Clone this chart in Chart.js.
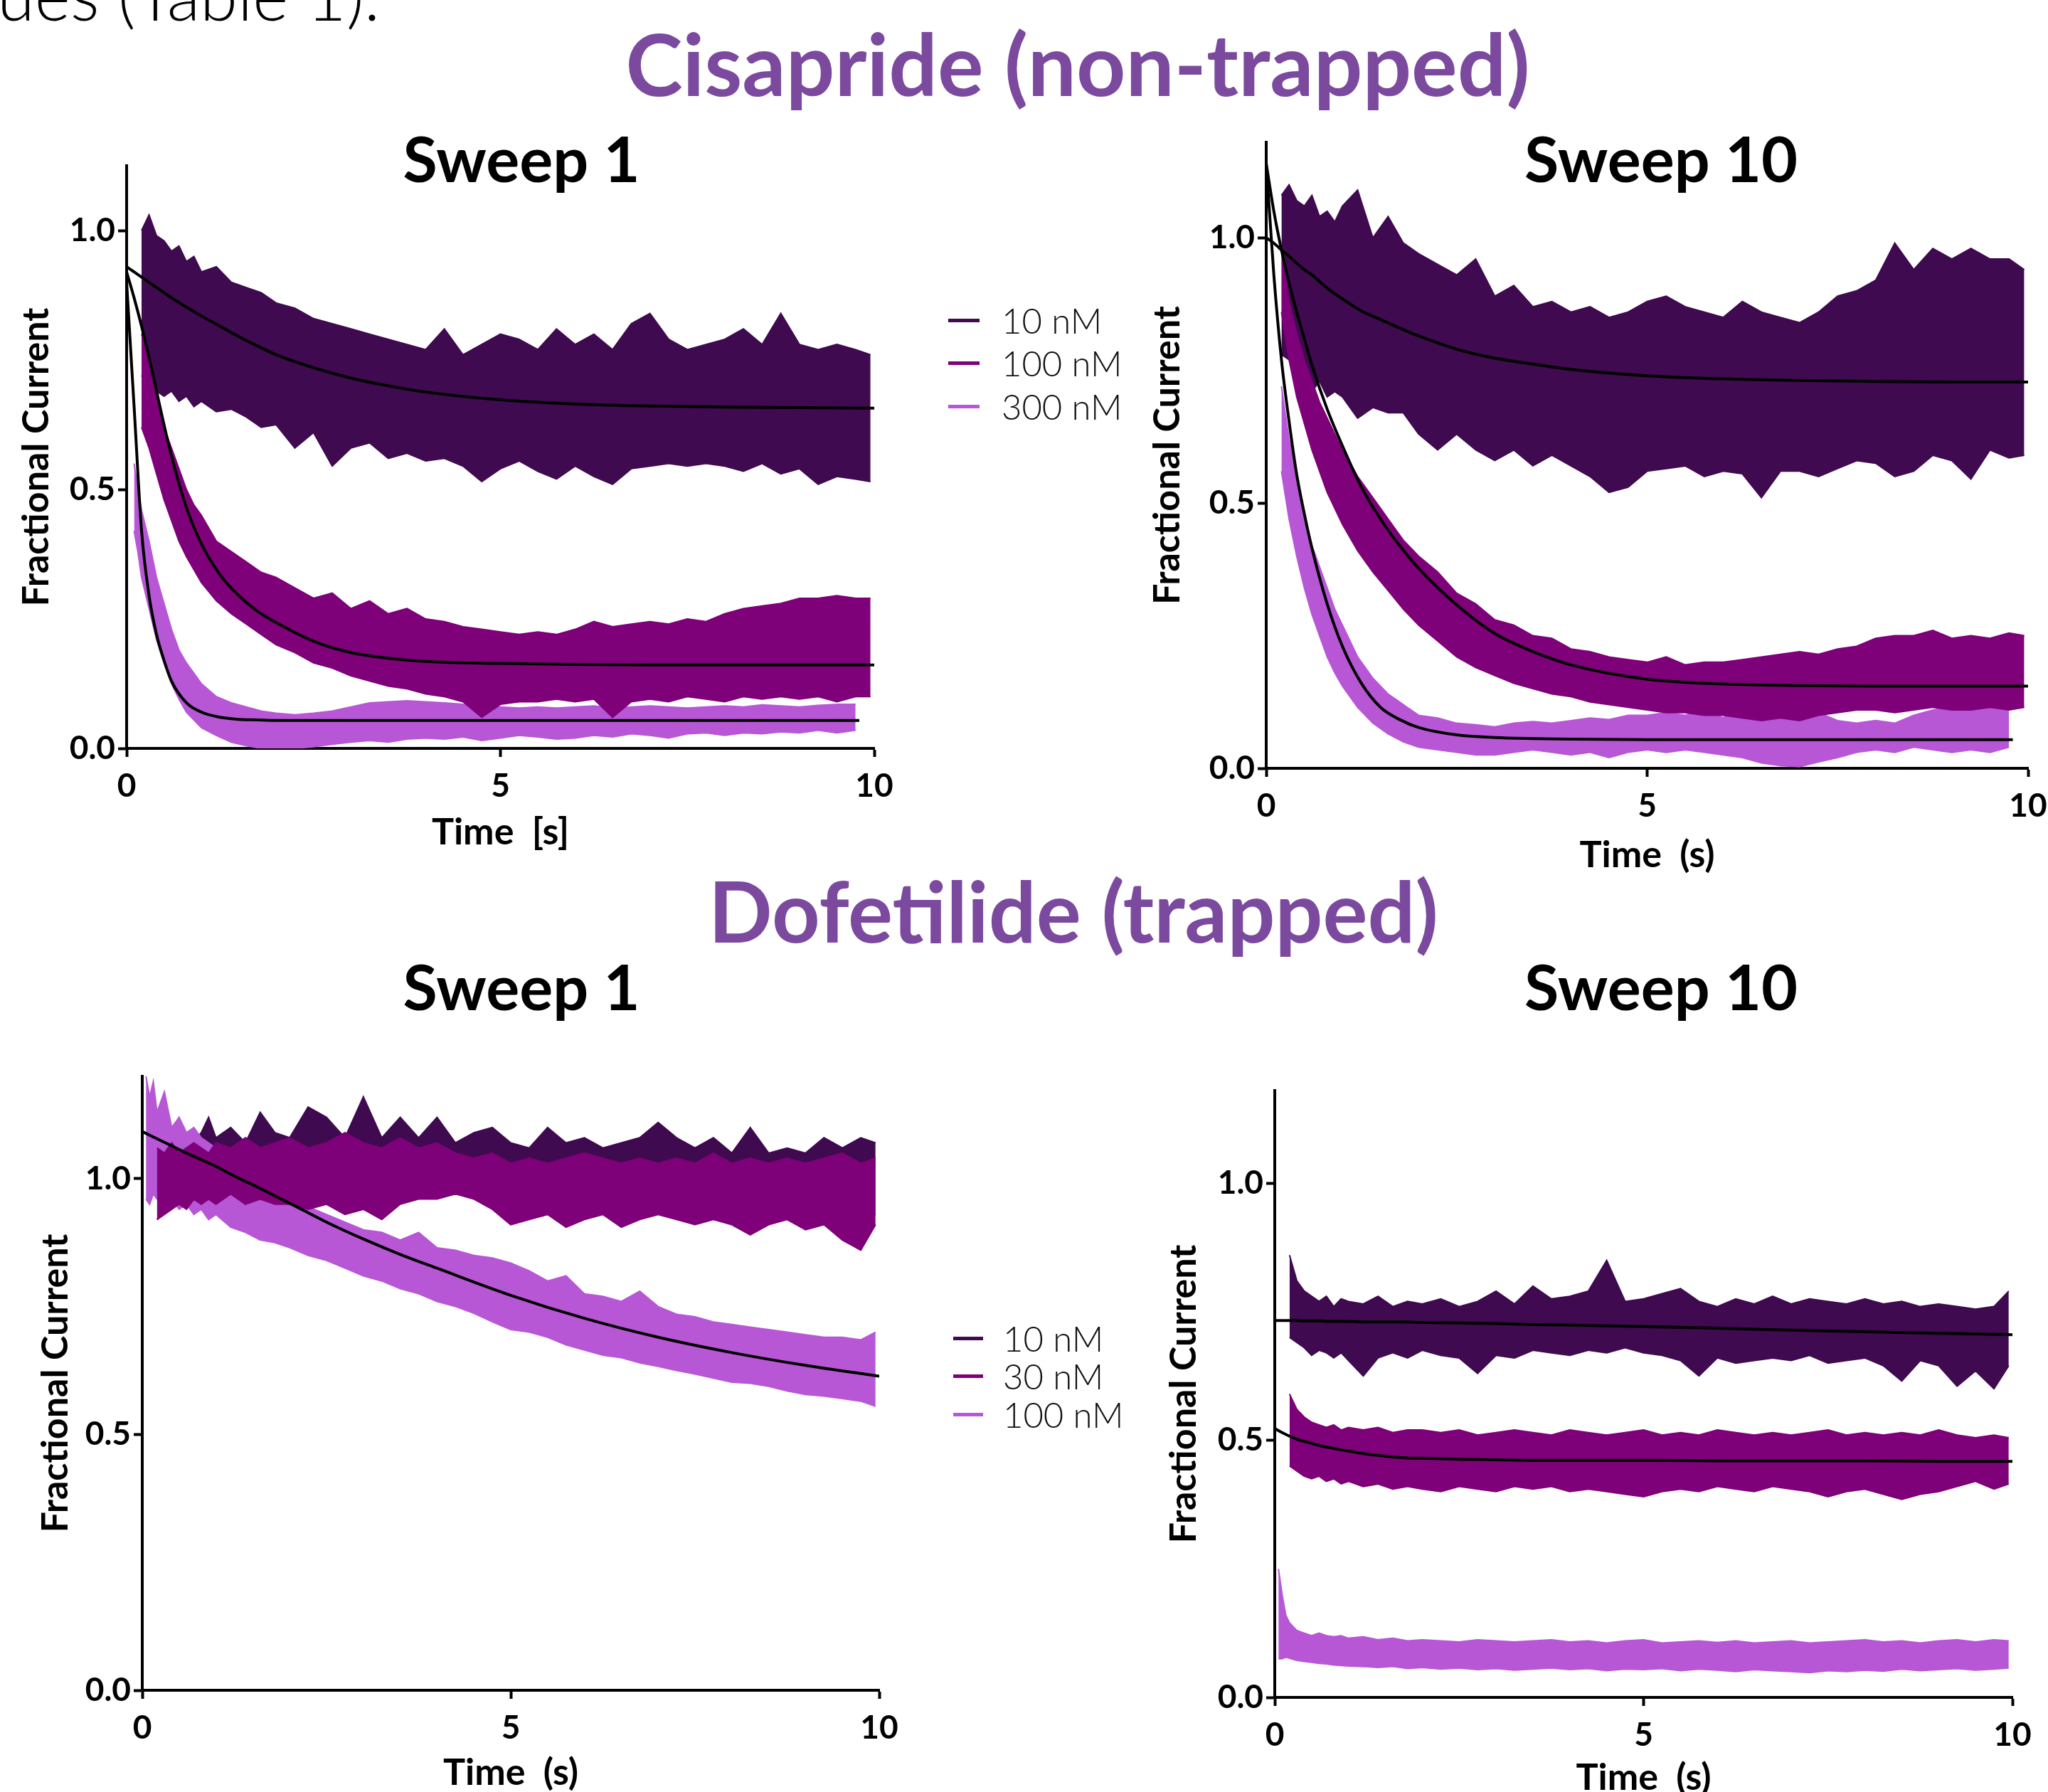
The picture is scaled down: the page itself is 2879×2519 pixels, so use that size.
<!DOCTYPE html>
<html>
<head>
<meta charset="utf-8">
<script src="https://cdn.jsdelivr.net/npm/chart.js@4.4.1/dist/chart.umd.min.js"></script>
<style>
html,body{margin:0;padding:0;background:#fff;}
body{width:2879px;height:2519px;overflow:hidden;position:relative;font-family:Lato,"Noto Sans",sans-serif;}
.t{position:absolute;white-space:nowrap;line-height:1;transform:translate(-50%,-50%);}
.head{font-weight:700;color:#7b4a9e;font-size:121px;}
.sweep{font-weight:700;color:#000;font-size:88px;}
.cut{position:absolute;left:-4px;top:-56px;font-size:96px;font-weight:300;line-height:1;white-space:nowrap;color:#000;}
canvas{position:absolute;}
.leg{position:absolute;left:0;top:0;}
.legline{position:absolute;height:5px;}
.legtxt{position:absolute;font-size:49px;font-weight:300;line-height:1;color:#111;white-space:nowrap;transform:translateY(-50%);}
</style>
</head>
<body>
<div class="cut">ues (Table 1).</div>
<div class="t head" style="left:1515px;top:88px;">Cisapride (non-trapped)</div>
<div class="t head" style="left:1509px;top:1280px;font-size:118px;">Dofetilide (trapped)</div>
<div class="t sweep" style="left:733px;top:222px;">Sweep 1</div>
<div class="t sweep" style="left:2335px;top:222px;">Sweep 10</div>
<div class="t sweep" style="left:733px;top:1386px;">Sweep 1</div>
<div class="t sweep" style="left:2335px;top:1386px;">Sweep 10</div>
<div id="legTop" class="leg"></div>
<div id="legBottom" class="leg"></div>
<canvas id="cA"></canvas>
<canvas id="cB"></canvas>
<canvas id="cC"></canvas>
<canvas id="cD"></canvas>
<script>
// ---------------- DATA ----------------
const time = [0.05,0.1,0.15,0.2,0.3,0.4,0.5,0.6,0.7,0.8,0.9,1.0,
  1.2,1.4,1.6,1.8,2.0,2.25,2.5,2.75,3.0,3.25,3.5,3.75,
  4.0,4.25,4.5,4.75,5.0,5.25,5.5,5.75,6.0,6.25,6.5,6.75,
  7.0,7.25,7.5,7.75,8.0,8.25,8.5,8.75,9.0,9.25,9.5,9.75,9.95];
const fitTime = [0,0.1,0.2,0.3,0.4,0.5,0.6,0.8,1.0,1.25,1.5,1.75,2.0,2.5,3.0,3.5,4.0,5.0,6.0,7.0,8.0,9.0,9.8,10.0];

const xTickValues = [0,5,10];
const yTickValues = [0,0.5,1.0];
const cisLabels = ['10 nM','100 nM','300 nM'];
const dofLabels = ['10 nM','30 nM','100 nM'];

// Cisapride, Sweep 1 (upper / lower edge of the error-bar band)
const cisS1_10_hi = [null,null,null,1.00,1.03,0.99,0.98,0.96,0.97,0.94,0.95,0.92,
  0.93,0.90,0.89,0.88,0.86,0.85,0.83,0.82,0.81,0.80,0.79,0.78,
  0.77,0.81,0.76,0.78,0.80,0.79,0.77,0.81,0.78,0.80,0.77,0.82,
  0.84,0.79,0.77,0.78,0.79,0.81,0.78,0.84,0.78,0.77,0.78,0.77,0.76];
const cisS1_10_lo = [null,null,null,0.72,0.70,0.69,0.68,0.69,0.67,0.68,0.66,0.67,
  0.65,0.655,0.64,0.62,0.625,0.58,0.61,0.545,0.58,0.59,0.56,0.57,
  0.555,0.56,0.545,0.515,0.54,0.555,0.535,0.52,0.545,0.525,0.51,0.54,
  0.545,0.55,0.545,0.55,0.545,0.535,0.55,0.53,0.54,0.51,0.525,0.52,0.515];
const cisS1_100_hi = [null,null,null,0.80,0.74,0.68,0.62,0.58,0.54,0.50,0.47,0.45,
  0.40,0.38,0.36,0.34,0.33,0.31,0.29,0.30,0.27,0.285,0.26,0.27,
  0.25,0.245,0.235,0.23,0.225,0.22,0.225,0.22,0.23,0.245,0.235,0.24,
  0.245,0.24,0.25,0.245,0.26,0.27,0.275,0.28,0.29,0.29,0.295,0.29,0.29];
const cisS1_100_lo = [null,null,null,0.62,0.58,0.53,0.48,0.44,0.40,0.37,0.345,0.32,
  0.285,0.26,0.24,0.22,0.20,0.185,0.165,0.155,0.14,0.13,0.12,0.115,
  0.105,0.10,0.09,0.06,0.085,0.09,0.09,0.095,0.09,0.095,0.06,0.09,
  0.095,0.09,0.10,0.095,0.09,0.10,0.095,0.10,0.095,0.10,0.09,0.10,0.10];
const cisS1_300_hi = [null,0.55,0.50,0.46,0.40,0.33,0.28,0.23,0.19,0.165,0.145,0.125,
  0.10,0.088,0.08,0.072,0.068,0.065,0.068,0.072,0.08,0.088,0.09,0.092,
  0.09,0.088,0.085,0.082,0.08,0.078,0.08,0.078,0.08,0.082,0.078,0.08,
  0.082,0.08,0.078,0.08,0.082,0.08,0.084,0.082,0.08,0.083,0.085,0.085,null];
const cisS1_300_lo = [null,0.42,0.38,0.33,0.27,0.21,0.165,0.125,0.095,0.07,0.055,0.04,
  0.025,0.012,0.005,0.0,0.0,0.0,0.003,0.008,0.012,0.015,0.012,0.018,
  0.02,0.018,0.022,0.015,0.02,0.025,0.022,0.018,0.02,0.025,0.022,0.028,
  0.025,0.02,0.028,0.03,0.025,0.03,0.028,0.032,0.03,0.035,0.03,0.035,null];
const cisS1_fit10 = [0.93,0.92,0.91,0.90,0.89,0.88,0.87,0.852,0.835,0.815,0.795,0.777,0.76,0.735,0.715,0.70,0.688,0.673,0.665,0.661,0.659,0.658,0.657,0.657];
const cisS1_fit100 = [0.92,0.87,0.815,0.755,0.69,0.625,0.565,0.465,0.395,0.335,0.295,0.265,0.243,0.207,0.185,0.174,0.168,0.164,0.162,0.161,0.161,0.161,0.161,0.161];
const cisS1_fit300 = [0.90,0.66,0.42,0.295,0.22,0.17,0.13,0.088,0.07,0.06,0.056,0.055,0.054,0.054,0.054,0.054,0.054,0.054,0.054,0.054,0.054,0.054,0.054,null];

// Cisapride, Sweep 10
const cisS10_10_hi = [null,null,null,1.08,1.10,1.07,1.06,1.08,1.04,1.05,1.03,1.06,
  1.09,1.00,1.04,0.99,0.97,0.95,0.93,0.96,0.89,0.91,0.87,0.88,
  0.86,0.87,0.85,0.86,0.88,0.89,0.87,0.86,0.85,0.88,0.86,0.85,
  0.84,0.86,0.89,0.90,0.92,0.99,0.94,0.98,0.96,0.98,0.96,0.96,0.94];
const cisS10_10_lo = [null,null,null,0.78,0.77,0.75,0.73,0.71,0.73,0.70,0.71,0.70,
  0.66,0.68,0.67,0.67,0.63,0.60,0.63,0.60,0.58,0.60,0.57,0.59,
  0.57,0.55,0.52,0.53,0.56,0.565,0.57,0.55,0.56,0.555,0.51,0.56,
  0.56,0.55,0.565,0.58,0.575,0.55,0.56,0.59,0.58,0.545,0.60,0.585,0.59];
const cisS10_100_hi = [null,null,null,0.98,0.88,0.82,0.77,0.73,0.69,0.66,0.63,0.60,
  0.55,0.51,0.47,0.43,0.40,0.37,0.33,0.31,0.28,0.27,0.25,0.245,
  0.225,0.22,0.21,0.205,0.20,0.21,0.195,0.20,0.20,0.205,0.21,0.215,
  0.22,0.215,0.225,0.23,0.245,0.25,0.25,0.26,0.245,0.25,0.245,0.255,0.25];
const cisS10_100_lo = [null,null,null,0.86,0.77,0.70,0.65,0.60,0.56,0.52,0.49,0.46,
  0.41,0.37,0.335,0.30,0.27,0.24,0.21,0.19,0.175,0.16,0.15,0.14,
  0.135,0.125,0.12,0.115,0.11,0.105,0.105,0.10,0.10,0.095,0.09,0.095,
  0.09,0.10,0.105,0.11,0.11,0.105,0.11,0.115,0.11,0.11,0.115,0.11,0.115];
const cisS10_300_hi = [null,null,null,0.72,0.62,0.55,0.48,0.42,0.38,0.34,0.30,0.27,
  0.21,0.17,0.14,0.12,0.10,0.095,0.085,0.082,0.078,0.085,0.088,0.085,
  0.09,0.095,0.092,0.10,0.10,0.105,0.10,0.11,0.095,0.13,0.11,0.115,
  0.12,0.105,0.09,0.085,0.09,0.085,0.10,0.11,0.115,0.11,0.12,0.13,null];
const cisS10_300_lo = [null,null,null,0.56,0.47,0.40,0.34,0.29,0.25,0.21,0.18,0.155,
  0.115,0.085,0.065,0.05,0.04,0.035,0.03,0.025,0.025,0.03,0.035,0.03,
  0.025,0.03,0.02,0.03,0.035,0.03,0.035,0.03,0.025,0.02,0.01,0.005,
  0.003,0.012,0.02,0.03,0.035,0.03,0.04,0.035,0.03,0.035,0.03,0.04,null];
const cisS10_fit10 = [1.0,0.99,0.977,0.965,0.952,0.94,0.93,0.905,0.885,0.862,0.846,0.83,0.815,0.79,0.773,0.762,0.752,0.740,0.734,0.731,0.729,0.728,0.728,0.728];
const cisS10_fit100 = [1.14,1.05,0.977,0.915,0.86,0.81,0.76,0.677,0.608,0.53,0.47,0.42,0.377,0.308,0.254,0.22,0.195,0.168,0.159,0.156,0.155,0.155,0.155,0.155];
const cisS10_fit300 = [1.14,0.93,0.77,0.654,0.554,0.48,0.415,0.31,0.23,0.16,0.115,0.092,0.077,0.063,0.058,0.056,0.055,0.054,0.054,0.054,0.054,0.054,0.054,null];

// Dofetilide, Sweep 1
const dofS1_10_hi = [null,null,null,1.07,1.09,1.06,1.07,1.08,1.07,1.09,1.12,1.08,
  1.10,1.07,1.13,1.09,1.08,1.14,1.12,1.08,1.16,1.08,1.12,1.08,
  1.12,1.07,1.09,1.10,1.07,1.06,1.10,1.07,1.08,1.06,1.07,1.08,
  1.11,1.08,1.06,1.08,1.05,1.10,1.05,1.06,1.05,1.08,1.06,1.08,1.07];
const dofS1_10_lo = [null,null,null,0.92,0.94,0.95,0.96,0.95,0.96,0.95,0.96,0.96,
  0.97,0.96,0.96,0.965,0.96,0.955,0.96,0.95,0.955,0.95,0.96,0.965,
  0.965,0.97,0.965,0.955,0.945,0.94,0.945,0.935,0.94,0.945,0.935,0.94,
  0.945,0.94,0.935,0.94,0.93,0.925,0.93,0.935,0.92,0.93,0.915,0.92,0.93];
const dofS1_30_hi = [null,null,null,1.06,1.05,1.07,1.05,1.06,1.07,1.06,1.05,1.07,
  1.06,1.08,1.06,1.07,1.08,1.06,1.07,1.09,1.07,1.06,1.08,1.06,
  1.07,1.05,1.04,1.05,1.03,1.04,1.03,1.04,1.05,1.04,1.03,1.04,
  1.03,1.04,1.03,1.05,1.03,1.04,1.03,1.04,1.03,1.04,1.05,1.03,1.04];
const dofS1_30_lo = [null,null,null,0.92,0.93,0.94,0.95,0.94,0.96,0.95,0.96,0.95,
  0.97,0.95,0.96,0.95,0.95,0.94,0.95,0.93,0.94,0.92,0.95,0.96,
  0.96,0.97,0.96,0.94,0.91,0.92,0.93,0.905,0.92,0.93,0.905,0.92,
  0.93,0.92,0.91,0.92,0.91,0.89,0.91,0.92,0.90,0.91,0.88,0.86,0.91];
const dofS1_100_hi = [1.20,1.16,1.19,1.13,1.17,1.10,1.12,1.09,1.10,1.08,1.07,1.06,
  1.03,1.00,0.99,0.97,0.96,0.945,0.93,0.915,0.90,0.895,0.88,0.895,
  0.865,0.86,0.85,0.845,0.835,0.82,0.80,0.81,0.775,0.77,0.76,0.78,
  0.75,0.735,0.73,0.72,0.715,0.71,0.705,0.70,0.695,0.69,0.69,0.685,0.70];
const dofS1_100_lo = [0.96,0.95,0.97,0.96,0.95,0.96,0.94,0.95,0.93,0.94,0.92,0.93,
  0.905,0.895,0.88,0.875,0.865,0.85,0.84,0.825,0.81,0.80,0.785,0.775,
  0.76,0.75,0.737,0.72,0.705,0.70,0.69,0.675,0.665,0.655,0.65,0.64,
  0.633,0.625,0.618,0.61,0.602,0.60,0.594,0.585,0.578,0.575,0.57,0.565,0.555];
const dofS1_fit100 = [1.092,1.085,1.078,1.071,1.064,1.057,1.05,1.037,1.024,1.005,0.988,0.97,0.952,0.915,0.882,0.852,0.825,0.772,0.727,0.69,0.66,0.635,0.618,0.614];

// Dofetilide, Sweep 10
const dofS10_10_hi = [null,null,null,0.86,0.81,0.79,0.78,0.77,0.78,0.76,0.775,0.77,
  0.765,0.78,0.76,0.77,0.765,0.775,0.76,0.77,0.79,0.765,0.80,0.775,
  0.78,0.79,0.85,0.77,0.775,0.785,0.795,0.77,0.76,0.775,0.765,0.78,
  0.765,0.775,0.77,0.765,0.775,0.765,0.77,0.76,0.765,0.76,0.755,0.76,0.79];
const dofS10_10_lo = [null,null,null,0.70,0.69,0.68,0.665,0.675,0.67,0.66,0.67,0.655,
  0.625,0.66,0.67,0.66,0.675,0.665,0.66,0.63,0.665,0.66,0.675,0.67,
  0.665,0.675,0.67,0.68,0.67,0.665,0.655,0.625,0.66,0.65,0.655,0.66,
  0.655,0.665,0.65,0.655,0.66,0.645,0.615,0.655,0.645,0.605,0.635,0.60,0.645];
const dofS10_30_hi = [null,null,null,0.59,0.56,0.545,0.535,0.53,0.525,0.53,0.52,0.525,
  0.52,0.525,0.515,0.52,0.52,0.515,0.52,0.51,0.515,0.52,0.515,0.51,
  0.52,0.515,0.51,0.515,0.52,0.51,0.515,0.51,0.52,0.515,0.51,0.515,
  0.51,0.515,0.52,0.51,0.515,0.51,0.515,0.51,0.52,0.51,0.505,0.51,0.505];
const dofS10_30_lo = [null,null,null,0.45,0.44,0.43,0.425,0.43,0.42,0.425,0.415,0.42,
  0.41,0.415,0.405,0.41,0.405,0.40,0.41,0.405,0.40,0.41,0.405,0.41,
  0.40,0.405,0.40,0.395,0.39,0.40,0.405,0.40,0.41,0.405,0.40,0.41,
  0.405,0.40,0.39,0.40,0.405,0.395,0.385,0.395,0.40,0.41,0.42,0.405,0.415];
const dofS10_100_hi = [0.25,0.20,0.16,0.145,0.13,0.125,0.12,0.125,0.12,0.118,0.12,0.115,
  0.118,0.112,0.115,0.11,0.112,0.11,0.108,0.112,0.11,0.108,0.11,0.112,
  0.108,0.11,0.106,0.11,0.112,0.106,0.108,0.11,0.107,0.11,0.106,0.108,
  0.11,0.106,0.108,0.11,0.112,0.108,0.11,0.106,0.11,0.112,0.108,0.112,0.11];
const dofS10_100_lo = [0.075,0.075,0.078,0.076,0.072,0.07,0.068,0.066,0.065,0.063,0.062,0.061,
  0.06,0.058,0.06,0.056,0.058,0.055,0.057,0.054,0.056,0.053,0.055,0.057,
  0.054,0.056,0.052,0.055,0.054,0.056,0.052,0.055,0.053,0.05,0.054,0.052,
  0.05,0.048,0.052,0.05,0.053,0.051,0.055,0.052,0.054,0.056,0.053,0.055,0.057];
const dofS10_fit10 = [0.733,0.733,0.733,0.733,0.732,0.732,0.732,0.731,0.731,0.730,0.730,0.730,0.729,0.728,0.727,0.725,0.724,0.721,0.718,0.714,0.711,0.708,0.706,0.705];
const dofS10_fit30 = [0.523,0.515,0.508,0.502,0.498,0.494,0.49,0.484,0.479,0.473,0.469,0.466,0.465,0.463,0.462,0.461,0.461,0.461,0.46,0.46,0.46,0.459,0.459,0.459];

// ---------------- STYLE / LAYOUT ----------------
const colors = ['#3f0a4f', '#7e0179', '#b757d6'];
Chart.defaults.font.family = 'Lato, "Noto Sans", sans-serif';
const tickFont = {size: 46, weight: 'bold'};
const titleFont = {size: 52, weight: 'bold'};
const PT = 40, PR = 60;

const panels = [
  {id:'cA', box:{l:178, r:1229, t:233, b:1052, wy:158, hx:149}, yMax:1.125, xTitle:'Time  [s]',
   labels:cisLabels, hi:[cisS1_10_hi, cisS1_100_hi, cisS1_300_hi], lo:[cisS1_10_lo, cisS1_100_lo, cisS1_300_lo],
   fits:[cisS1_fit10, cisS1_fit100, cisS1_fit300]},
  {id:'cB', box:{l:1780, r:2851, t:200, b:1080, wy:170, hx:153}, yMax:1.18, xTitle:'Time  (s)',
   labels:cisLabels, hi:[cisS10_10_hi, cisS10_100_hi, cisS10_300_hi], lo:[cisS10_10_lo, cisS10_100_lo, cisS10_300_lo],
   fits:[cisS10_fit10, cisS10_fit100, cisS10_fit300]},
  {id:'cC', box:{l:200, r:1236, t:1513, b:2376, wy:153, hx:147}, yMax:1.2, xTitle:'Time  (s)',
   labels:dofLabels, hi:[dofS1_10_hi, dofS1_30_hi, dofS1_100_hi], lo:[dofS1_10_lo, dofS1_30_lo, dofS1_100_lo],
   fits:[dofS1_fit100]},
  {id:'cD', box:{l:1792, r:2829, t:1533, b:2386, wy:159, hx:144}, yMax:1.18, xTitle:'Time  (s)',
   labels:dofLabels, hi:[dofS10_10_hi, dofS10_30_hi, dofS10_100_hi], lo:[dofS10_10_lo, dofS10_30_lo, dofS10_100_lo],
   fits:[dofS10_fit10, dofS10_fit30]}
];

function pts(xs, ys) {
  const out = [];
  for (let i = 0; i < xs.length; i++) if (ys[i] !== null && ys[i] !== undefined) out.push({x: xs[i], y: ys[i]});
  return out;
}

// drawing order: dark at back, light in the middle, medium on top, fits over everything
const seriesOrder = [3, 1, 2];

panels.forEach(p => {
  const b = p.box;
  const cv = document.getElementById(p.id);
  const left = b.l - b.wy, top = b.t - PT;
  const w = b.r + PR - left, h = b.b + b.hx - top;
  cv.width = w; cv.height = h;
  cv.style.left = left + 'px'; cv.style.top = top + 'px';
  cv.style.width = w + 'px'; cv.style.height = h + 'px';

  const datasets = [];
  p.hi.forEach((hiArr, s) => {
    const hiIdx = datasets.length;
    datasets.push({label: p.labels[s], data: pts(time, hiArr), borderColor: colors[s], backgroundColor: colors[s],
      borderWidth: 2, pointRadius: 0, fill: {target: hiIdx + 1}, order: seriesOrder[s]});
    datasets.push({label: p.labels[s] + ' low', data: pts(time, p.lo[s]), borderColor: colors[s], backgroundColor: colors[s],
      borderWidth: 2, pointRadius: 0, fill: false, order: seriesOrder[s]});
  });
  p.fits.forEach((f, k) => {
    datasets.push({label: 'fit ' + k, data: pts(fitTime, f), borderColor: '#000', borderWidth: 4, pointRadius: 0,
      fill: false, cubicInterpolationMode: 'monotone', order: 0});
  });

  new Chart(cv, {
    type: 'line',
    data: {datasets},
    options: {
      responsive: false, animation: false, devicePixelRatio: 1,
      layout: {padding: {left: 0, top: PT, right: PR, bottom: 0}},
      plugins: {legend: {display: false}, tooltip: {enabled: false}},
      elements: {line: {tension: 0}, point: {radius: 0}},
      scales: {
        x: {
          type: 'linear', min: 0, max: 10,
          afterBuildTicks: s => { s.ticks = xTickValues.map(v => ({value: v})); },
          afterFit: s => { s.height = b.hx; },
          ticks: {font: tickFont, color: '#000', padding: 14, maxRotation: 0, autoSkip: false, callback: v => String(v)},
          grid: {display: true, drawOnChartArea: false, drawTicks: true, tickLength: 12, tickWidth: 4, tickColor: '#000', color: '#000'},
          border: {display: true, color: '#000', width: 4},
          title: {display: true, text: p.xTitle, font: titleFont, color: '#000', padding: 0}
        },
        y: {
          type: 'linear', min: 0, max: p.yMax,
          afterBuildTicks: s => { s.ticks = yTickValues.map(v => ({value: v})); },
          afterFit: s => { s.width = b.wy; },
          ticks: {font: tickFont, color: '#000', padding: 4, autoSkip: false, callback: v => Number(v).toFixed(1)},
          grid: {display: true, drawOnChartArea: false, drawTicks: true, tickLength: 12, tickWidth: 4, tickColor: '#000', color: '#000'},
          border: {display: true, color: '#000', width: 4},
          title: {display: true, text: 'Fractional Current', font: titleFont, color: '#000', padding: 0}
        }
      }
    }
  });
});

// ---------------- LEGENDS (built from the label arrays) ----------------
function buildLegend(id, labels, x, rowsY, lineW, textX) {
  const el = document.getElementById(id);
  labels.forEach((lab, i) => {
    const line = document.createElement('div');
    line.className = 'legline';
    line.style.left = x + 'px'; line.style.top = (rowsY[i] - 2.5) + 'px';
    line.style.width = lineW + 'px'; line.style.background = colors[i];
    el.appendChild(line);
    const t = document.createElement('div');
    t.className = 'legtxt';
    t.style.left = textX + 'px'; t.style.top = rowsY[i] + 'px';
    t.textContent = lab;
    el.appendChild(t);
  });
}
buildLegend('legTop', cisLabels, 1333, [450, 510, 571], 44, 1408);
buildLegend('legBottom', dofLabels, 1340, [1881, 1934, 1988], 42, 1410);
</script>
</body>
</html>
